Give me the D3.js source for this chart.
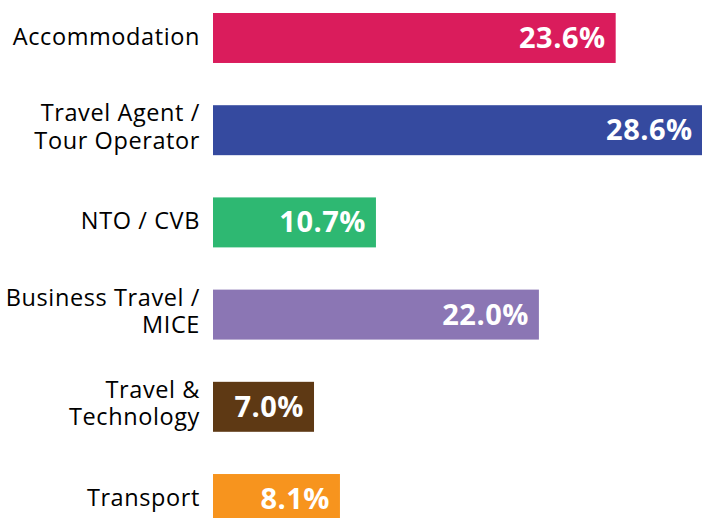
<!DOCTYPE html>
<html>
<head>
<meta charset="utf-8">
<script src="https://cdn.jsdelivr.net/npm/d3@7"></script>
<style>
  html, body { margin: 0; padding: 0; background: #fff; }
  svg { display: block; }
</style>
</head>
<body>
<div id="chart"></div>
<script>
// Categories, label lines, shares and bar colours
const categories = ['Accommodation', 'Travel Agent / Tour Operator', 'NTO / CVB',
  'Business Travel / MICE', 'Travel & Technology', 'Transport']
const labelLines = [
  ['Accommodation'],
  ['Travel Agent /', 'Tour Operator'],
  ['NTO / CVB'],
  ['Business Travel /', 'MICE'],
  ['Travel &', 'Technology'],
  ['Transport']
]
// printed shares (%)
const shares = [23.6, 28.6, 10.7, 22.0, 7.0, 8.1]
// bar lengths as drawn in the picture (in % units, the source bars are not to scale)
const barLengths = [23.6, 28.7, 9.55, 19.1, 5.92, 7.44]
const colors = ['#da1c5c', '#354a9f', '#2eb872', '#8b76b4', '#5e3914', '#f7941e']

const width = 702
const height = 518

const svg = d3.select('#chart').append('svg')
  .attr('width', width)
  .attr('height', height)

const x = d3.scaleLinear().domain([0, 28.6]).range([213, 701])
const y = d3.scaleBand().domain(categories).range([13, 524]).paddingInner(0.458).paddingOuter(0)

const rows = svg.selectAll('g.row')
  .data(categories)
  .join('g')
  .attr('class', 'row')

rows.append('rect')
  .attr('x', x(0))
  .attr('y', d => y(d))
  .attr('width', (d, i) => x(barLengths[i]) - x(0))
  .attr('height', y.bandwidth())
  .attr('fill', (d, i) => colors[i])

// value labels inside the bar end
rows.append('text')
  .attr('x', (d, i) => x(barLengths[i]) - 10)
  .attr('y', d => y(d) + y.bandwidth() / 2 + 10)
  .attr('text-anchor', 'end')
  .attr('fill', '#fff')
  .style('font-family', '"Open Sans", sans-serif')
  .style('font-weight', 'bold')
  .style('font-size', '29px')
  .style('letter-spacing', '0.5px')
  .text((d, i) => shares[i].toFixed(1) + '%')

// category labels, left of the bars
const lineHeight = 27.5
rows.append('text')
  .attr('text-anchor', 'end')
  .attr('fill', '#000')
  .style('font-family', '"Open Sans", sans-serif')
  .style('font-size', '23.5px')
  .style('letter-spacing', '0.6px')
  .each(function (d, i) {
    const lines = labelLines[i]
    const mid = y(d) + y.bandwidth() / 2
    const first = lines.length === 1 ? mid + 7 : mid - 9
    d3.select(this).selectAll('tspan')
      .data(lines)
      .join('tspan')
      .attr('x', 200)
      .attr('y', (t, j) => first + j * lineHeight)
      .text(t => t)
  })
</script>
</body>
</html>
